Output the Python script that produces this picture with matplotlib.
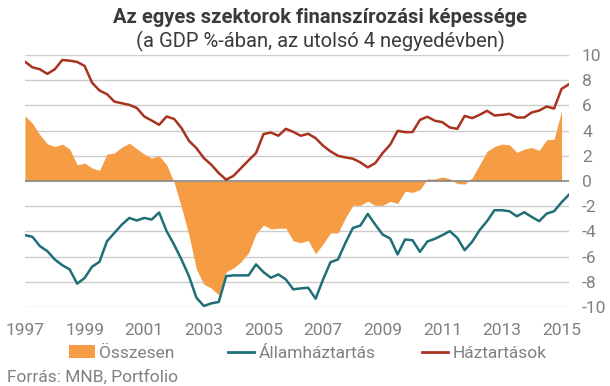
import matplotlib
matplotlib.use("Agg")
import matplotlib.pyplot as plt
from matplotlib import font_manager
from matplotlib.patches import Patch
from matplotlib.lines import Line2D
import numpy as np

names = {f.name for f in font_manager.fontManager.ttflist}
FONT = "Liberation Sans Narrow" if "Liberation Sans Narrow" in names else "Roboto"
plt.rcParams['font.family'] = [FONT, 'DejaVu Sans']
plt.rcParams['axes.unicode_minus'] = False

years = ["1997", "1999", "2001", "2003", "2005", "2007", "2009", "2011", "2013", "2015"]

haztartasok = [9.47, 9.02, 8.87, 8.5, 8.87, 9.6, 9.55, 9.45, 9.13, 7.8, 7.18, 6.89, 6.3, 6.17,
               6.04, 5.8, 5.12, 4.8, 4.46,
               5.12, 4.93, 4.2, 3.19, 2.61, 1.82, 1.29, 0.63, 0.1, 0.42, 1.03, 1.64, 2.22,
               3.72, 3.85, 3.59, 4.14, 3.9,
               3.59, 3.75, 3.4, 2.8, 2.35, 2.0, 1.87, 1.77, 1.48, 1.08, 1.42, 2.22, 2.88,
               3.98, 3.88, 3.88, 4.85, 5.1,
               4.78, 4.67, 4.25, 4.14, 5.17, 4.99, 5.25, 5.57, 5.2, 5.25, 5.33, 5.04, 5.04,
               5.44, 5.59, 5.91, 5.75, 7.31, 7.68]

osszesen = [5.17, 4.59, 3.67, 2.95, 2.74, 2.93, 2.53, 1.29, 1.42, 1.03, 0.84, 2.14, 2.22, 2.69,
            3.0, 2.56, 2.14, 1.82, 2.0,
            1.29, -0.1, -2.1, -4.3, -7.0, -8.2, -8.5, -9.05, -7.2, -6.9, -6.4, -5.7, -4.2,
            -3.5, -3.8, -3.75, -3.75, -4.75,
            -4.9, -4.72, -5.78, -4.99, -4.12, -4.12, -2.93, -1.93, -1.93, -1.61, -1.93, -1.93,
            -1.61, -1.79, -0.82, -0.9, -0.69, 0.16,
            0.16, 0.32, 0.18, -0.21, -0.24, 0.24, 1.29, 2.35, 2.74, 2.93, 2.88, 2.27, 2.53,
            2.66, 2.43, 3.27, 3.32, 5.57]

allamhaztartas = [-4.30, -4.43, -5.17, -5.57, -6.23, -6.68, -7.02, -8.15, -7.7, -6.8, -6.41,
                  -4.78, -4.12, -3.46, -2.93, -3.14, -2.93, -3.06, -2.5,
                  -3.98, -5.04, -6.23, -7.55, -9.26, -9.92, -9.71, -9.6, -7.55, -7.49, -7.49,
                  -7.49, -6.62, -7.23, -7.68, -7.41, -7.81, -8.6,
                  -8.52, -8.47, -9.34, -7.81, -6.44, -6.23, -4.91, -3.72, -3.54, -2.61, -3.46,
                  -4.25, -4.56, -5.83, -4.64, -4.7, -5.62, -4.8,
                  -4.59, -4.3, -3.98, -4.51, -5.49, -4.83, -3.9, -3.19, -2.32, -2.32, -2.4,
                  -2.8, -2.48, -2.85, -3.19, -2.59, -2.4, -1.69, -1.08]

series_names = ["Összesen", "Államháztartás", "Háztartások"]

ORANGE = "#F59C45"
TEAL = "#1F6F78"
RED = "#A8331F"
GRAY = "#808080"
DARK = "#3a3a3a"

fig = plt.figure(figsize=(6.10, 3.86), dpi=100)
ax = fig.add_axes([25/610, 1-307/386, (569-25)/610, (307-55)/386])

x_tot = np.arange(len(osszesen))
x_lines = np.arange(len(haztartasok))

for y in range(-10, 11, 2):
    ax.axhline(y, color="#cccccc" if y != 0 else "#888888", lw=1.0 if y != 0 else 1.2,
               zorder=0 if y != 0 else 3)

ax.fill_between(x_tot, 0, osszesen, color=ORANGE, lw=0, zorder=1)
ax.plot(x_lines, allamhaztartas, color=TEAL, lw=1.8, zorder=4)
ax.plot(x_lines, haztartasok, color=RED, lw=1.8, zorder=4)

ax.set_xlim(0, len(haztartasok) - 1)
ax.set_ylim(-10, 10)
for s in ax.spines.values():
    s.set_visible(False)
ax.set_xticks(np.arange(0, 8 * len(years), 8))
ax.set_xticklabels(years)
ax.set_yticks(range(-10, 11, 2))
ax.yaxis.tick_right()
ax.tick_params(axis='y', length=0, pad=9.4, labelsize=12.5, labelcolor=GRAY)
ax.tick_params(axis='x', length=0, pad=11.5, labelsize=12.5, labelcolor=GRAY)

fig.text(320/610, 1-17.5/386, "Az egyes szektorok finanszírozási képessége", ha="center", va="center",
         fontsize=14.5, fontweight="bold", color=DARK)
fig.text(320/610, 1-41/386, "(a GDP %-ában, az utolsó 4 negyedévben)", ha="center", va="center",
         fontsize=14.5, color=DARK)

handles = [Patch(facecolor=ORANGE, edgecolor="none"),
           Line2D([], [], color=TEAL, lw=2),
           Line2D([], [], color=RED, lw=2)]
leg_x = [69, 228, 422]
for h, name, lx in zip(handles, series_names, leg_x):
    fig.legend([h], [name], loc="center left", bbox_to_anchor=(lx/610, 1-353/386), frameon=False,
               fontsize=12.5, labelcolor=GRAY, handlelength=1.5, handletextpad=0.25,
               borderpad=0, borderaxespad=0)

fig.text(7/610, 1-377/386, "Forrás: MNB, Portfolio", ha="left", va="center", fontsize=12.5, color=GRAY)

fig.savefig("out.png", dpi=100)
